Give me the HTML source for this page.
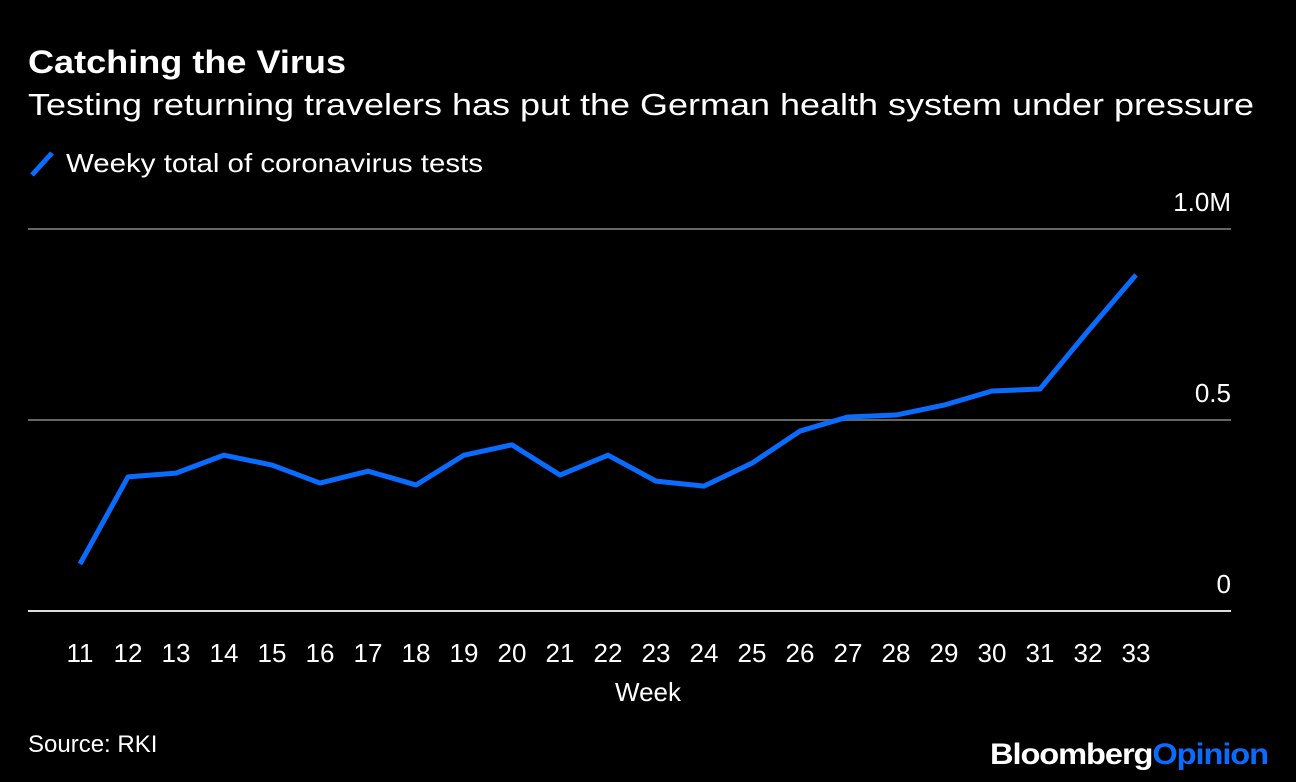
<!DOCTYPE html>
<html><head><meta charset="utf-8"><style>
body{margin:0;background:#000;width:1296px;height:782px;overflow:hidden;font-family:"Liberation Sans",sans-serif;color:#fff}
</style></head><body>
<svg width="1296" height="782" style="position:absolute;left:0;top:0">
<text x="28" y="73" font-size="32" font-weight="bold" fill="#fff" textLength="318" lengthAdjust="spacingAndGlyphs">Catching the Virus</text>
<text x="28" y="115" font-size="31" fill="#fff" textLength="1226" lengthAdjust="spacingAndGlyphs">Testing returning travelers has put the German health system under pressure</text>
<line x1="32" y1="175" x2="52" y2="153" stroke="#0a6cff" stroke-width="5"/>
<text x="66" y="172" font-size="26" fill="#fff" textLength="417" lengthAdjust="spacingAndGlyphs">Weeky total of coronavirus tests</text>
<g id="grid"></g>
<g id="xt"></g>
<text x="648" y="701" font-size="26" fill="#fff" text-anchor="middle">Week</text>
<path id="line" fill="none" stroke="#0a6cff" stroke-width="5" stroke-linejoin="round"/>
<text x="28" y="752" font-size="24" fill="#fff">Source: RKI</text>
<text x="990" y="764" font-size="30" font-weight="bold" letter-spacing="-1" textLength="278" lengthAdjust="spacingAndGlyphs"><tspan fill="#fff">Bloomberg</tspan><tspan fill="#0a6cff">Opinion</tspan></text>
</svg>
<script>
const weeks=[11,12,13,14,15,16,17,18,19,20,21,22,23,24,25,26,27,28,29,30,31,32,33];
const tests=[0.123,0.351,0.361,0.408,0.382,0.335,0.366,0.330,0.408,0.435,0.356,0.408,0.340,0.327,0.387,0.471,0.508,0.513,0.539,0.576,0.581,0.733,0.880];
const yTicks=[0,0.5,1.0];
const yTickLabels=["0","0.5","1.0M"];
const NS="http://www.w3.org/2000/svg";
const x=w=>80+(w-11)*48;
const y=v=>611-v*382;
const g=document.getElementById('grid');
yTicks.forEach((t,i)=>{
  const l=document.createElementNS(NS,'line');
  l.setAttribute('x1',28);l.setAttribute('x2',1231);
  l.setAttribute('y1',y(t));l.setAttribute('y2',y(t));
  l.setAttribute('stroke',t===0?'#ddd':'#666');l.setAttribute('stroke-width',2);
  
  
  g.appendChild(l);
  const tx=document.createElementNS(NS,'text');
  tx.setAttribute('x',1231);tx.setAttribute('y',y(t)-18);
  tx.setAttribute('text-anchor','end');tx.setAttribute('font-size',26);tx.setAttribute('fill','#fff');
  tx.textContent=yTickLabels[i];
  
  
  g.appendChild(tx);
});
const xt=document.getElementById('xt');
weeks.forEach(w=>{
  const tx=document.createElementNS(NS,'text');
  tx.setAttribute('x',x(w));tx.setAttribute('y',662);
  tx.setAttribute('text-anchor','middle');tx.setAttribute('font-size',26);tx.setAttribute('fill','#fff');
  tx.textContent=w;
  
  
  xt.appendChild(tx);
});
document.getElementById('line').setAttribute('d',weeks.map((w,i)=>(i?'L':'M')+x(w)+','+y(tests[i])).join(''));
</script>
</body></html>
